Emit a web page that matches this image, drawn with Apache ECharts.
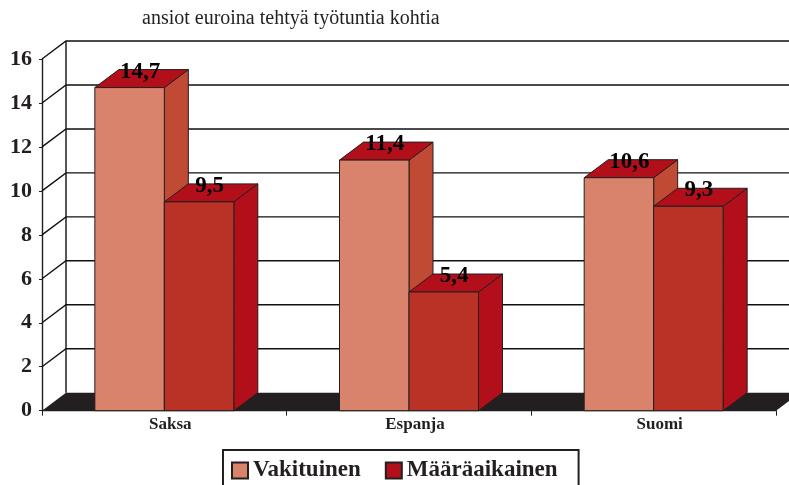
<!DOCTYPE html>
<html>
<head>
<meta charset="utf-8">
<style>
  html, body { margin: 0; padding: 0; background: #fff; }
  #chart { width: 789px; height: 485px; }
</style>
<script src="https://cdn.jsdelivr.net/npm/echarts@6/dist/echarts.min.js"></script>
</head>
<body>
<div id="chart"></div>
<script>
// values
var categories = ["Saksa", "Espanja", "Suomi"];
var vakituinen = [14.7, 11.4, 10.6];
var maaraaikainen = [9.5, 5.4, 9.3];
var yTicks = [0, 2, 4, 6, 8, 10, 12, 14, 16];
var titleText = "ansiot euroina tehtyä työtuntia kohtia";

var serif = '"Liberation Serif", serif';
var inkColor = "#231f20";
// how far the back wall sits from the front plane, in pixels
var depthX = 24;
var depthY = -18;
var barShare = 0.284;

function poly(points, fill) {
  return {
    type: "polygon",
    shape: { points: points },
    style: { fill: fill, stroke: inkColor, lineWidth: 1 }
  };
}

// one 3d bar. offset -1 is left of the category centre, 0 is right of it
function makeBarRenderer(offset, frontColor, sideColor, topColor) {
  return function (params, api) {
    var top = api.coord([api.value(0), api.value(1)]);
    var base = api.coord([api.value(0), 0]);
    var w = api.size([1, 0])[0] * barShare;
    var x0 = top[0] + offset * w;
    var x1 = x0 + w;
    var label = String(api.value(1)).replace(".", ",");
    return {
      type: "group",
      children: [
        poly([[x1, top[1]], [x1 + depthX, top[1] + depthY], [x1 + depthX, base[1] + depthY], [x1, base[1]]], sideColor),
        poly([[x0, top[1]], [x0 + depthX, top[1] + depthY], [x1 + depthX, top[1] + depthY], [x1, top[1]]], topColor),
        poly([[x0, top[1]], [x1, top[1]], [x1, base[1]], [x0, base[1]]], frontColor),
        {
          type: "text",
          style: {
            x: (x0 + x1) / 2 + 10.5,
            y: top[1] - 16,
            text: label,
            align: "center",
            verticalAlign: "middle",
            fill: "#000",
            font: "bold 23px " + serif
          }
        }
      ]
    };
  };
}

// floor and back wall lines, drawn behind the bars
function renderGrid(params, api) {
  var v = api.value(0);
  var left = api.coord([0, v]);
  var size = api.size([1, 0])[0];
  var x0 = left[0] - size / 2;
  var x1 = x0 + size * categories.length;
  var y = left[1];
  var children = [];
  if (v === 0) {
    children.push({
      type: "polygon",
      shape: { points: [[x0, y], [x0 + depthX, y + depthY], [x1 + depthX, y + depthY], [x1, y]] },
      style: { fill: inkColor }
    });
  } else {
    children.push({
      type: "polyline",
      shape: { points: [[x0, y], [x0 + depthX, y + depthY], [x1 + depthX, y + depthY]] },
      style: { fill: "none", stroke: "#111", lineWidth: 1.4 }
    });
  }
  if (v === 16) {
    children.push({
      type: "line",
      shape: { x1: x0 + depthX, y1: y + depthY, x2: x0 + depthX, y2: api.coord([0, 0])[1] + depthY },
      style: { stroke: "#111", lineWidth: 1.4 }
    });
  }
  return { type: "group", children: children };
}

var option = {
  animation: false,
  backgroundColor: "#fff",
  title: {
    text: titleText,
    left: 137,
    top: 4,
    textStyle: { fontFamily: serif, fontSize: 20, fontWeight: "normal", color: inkColor }
  },
  legend: {
    left: 223,
    top: 450,
    padding: [9, 21, 12, 8],
    itemWidth: 16,
    itemHeight: 16,
    itemGap: 24,
    icon: "rect",
    borderColor: inkColor,
    borderWidth: 2,
    data: ["Vakituinen", "Määräaikainen"],
    textStyle: { fontFamily: serif, fontSize: 23, fontWeight: "bold", color: inkColor }
  },
  grid: { left: 42, right: 13, top: 59, bottom: 74.3 },
  xAxis: {
    type: "category",
    data: categories,
    axisLine: { lineStyle: { color: inkColor, width: 1.4 } },
    axisTick: { show: true, length: 5, lineStyle: { color: inkColor, width: 1 } },
    axisLabel: { fontFamily: serif, fontSize: 17, fontWeight: "bold", color: inkColor, margin: 5, padding: [0, 0, 0, 12] }
  },
  yAxis: {
    type: "value",
    min: yTicks[0],
    max: yTicks[yTicks.length - 1],
    interval: 2,
    splitLine: { show: false },
    axisLine: { show: true, lineStyle: { color: inkColor, width: 1.4 } },
    axisTick: { show: true, length: 3, lineStyle: { color: inkColor } },
    axisLabel: { fontFamily: serif, fontSize: 22, fontWeight: "bold", color: inkColor, margin: 10, padding: [2, 0, 0, 0] }
  },
  series: [
    {
      type: "custom",
      name: "wall",
      silent: true,
      clip: false,
      z: 1,
      data: yTicks.map(function (t) { return [t]; }),
      encode: { y: 0 },
      renderItem: renderGrid
    },
    {
      type: "custom",
      name: "Vakituinen",
      clip: false,
      z: 2,
      itemStyle: { color: "#d9826c", borderColor: inkColor, borderWidth: 1 },
      data: vakituinen.map(function (v, i) { return [i, v]; }),
      encode: { x: 0, y: 1 },
      renderItem: makeBarRenderer(-1, "#d9826c", "#c04a33", "#b30f1b")
    },
    {
      type: "custom",
      name: "Määräaikainen",
      clip: false,
      z: 3,
      itemStyle: { color: "#b30f1b", borderColor: inkColor, borderWidth: 1 },
      data: maaraaikainen.map(function (v, i) { return [i, v]; }),
      encode: { x: 0, y: 1 },
      renderItem: makeBarRenderer(0, "#ba3226", "#b30f1b", "#b30f1b")
    }
  ]
};

var myChart = echarts.init(document.getElementById("chart"));
myChart.setOption(option);
</script>
</body>
</html>
